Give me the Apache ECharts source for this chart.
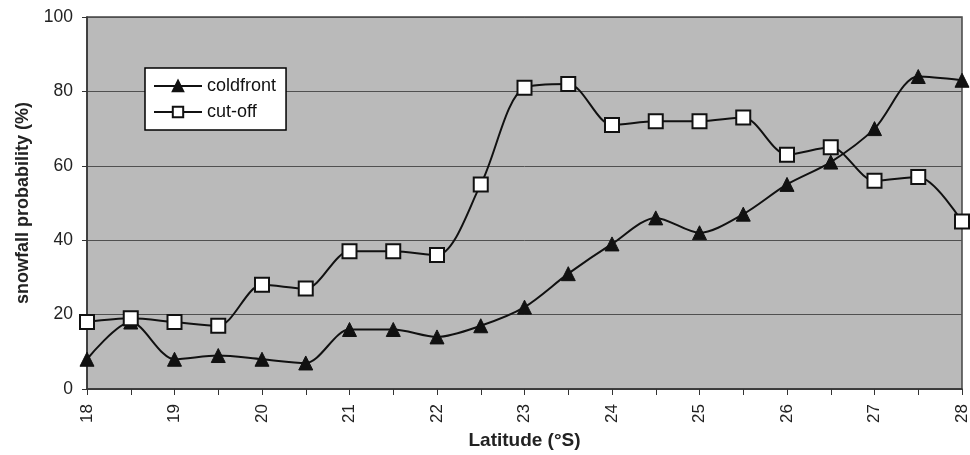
<!DOCTYPE html>
<html><head><meta charset="utf-8">
<script src="https://cdn.jsdelivr.net/npm/echarts@6/dist/echarts.min.js"></script>
<style>html,body{margin:0;padding:0;background:#fff}#c{width:970px;height:455px}</style>
</head><body><div id="c"></div>
<script>
const latitudes = [18,18.5,19,19.5,20,20.5,21,21.5,22,22.5,23,23.5,24,24.5,25,25.5,26,26.5,27,27.5,28];
const coldfront = [8,18,8,9,8,7,16,16,14,17,22,31,39,46,42,47,55,61,70,84,83];
const cutoff = [18,19,18,17,28,27,37,37,36,55,81,82,71,72,72,73,63,65,56,57,45];
const seriesNames = ['coldfront','cut-off'];

const chart = echarts.init(document.getElementById('c'));
const font = 'Liberation Sans, Arial, sans-serif';
chart.setOption({
  animation:false,
  backgroundColor:'#ffffff',
  grid:{left:87,right:8,top:17,bottom:66,outerBoundsMode:'none',containLabel:false,show:true,backgroundColor:'#bababa',borderColor:'#444',borderWidth:1.5},
  legend:{
    orient:'vertical', left:145, top:68, padding:[9,10,9,8], itemGap:8,
    backgroundColor:'#fff', borderColor:'#000', borderWidth:1.5,
    itemWidth:48, itemHeight:13,
    textStyle:{fontFamily:font,fontSize:18,color:'#111'},
    data:seriesNames
  },
  xAxis:{
    type:'value', min:18, max:28, interval:0.5,
    name:'Latitude (°S)', nameLocation:'middle', nameGap:41,
    nameTextStyle:{fontFamily:font,fontSize:19,fontWeight:'bold',color:'#222'},
    axisLine:{lineStyle:{color:'#333',width:1.5}},
    axisTick:{show:true,length:6,lineStyle:{color:'#333'}},
    splitLine:{show:false},
    axisLabel:{rotate:90,fontFamily:font,fontSize:17,color:'#222',margin:15,
      formatter:v=>Number.isInteger(v)?String(v):''}
  },
  yAxis:{
    type:'value', min:0, max:100, interval:20,
    name:'snowfall probability (%)', nameLocation:'middle', nameGap:55,
    nameTextStyle:{fontFamily:font,fontSize:18,fontWeight:'bold',color:'#222'},
    axisLine:{show:true,lineStyle:{color:'#333',width:1.5}},
    axisTick:{show:true,length:5,lineStyle:{color:'#333'}},
    splitLine:{show:true,lineStyle:{color:'#505050',width:1}},
    axisLabel:{fontFamily:font,fontSize:17.5,color:'#222',margin:14}
  },
  series:[
    {name:seriesNames[0],type:'line',smooth:0.3,data:latitudes.map((x,i)=>[x,coldfront[i]]),
     symbol:'triangle',symbolSize:14,lineStyle:{color:'#111',width:2},
     itemStyle:{color:'#111',borderColor:'#111',borderWidth:1},z:3},
    {name:seriesNames[1],type:'line',smooth:0.3,data:latitudes.map((x,i)=>[x,cutoff[i]]),
     symbol:'rect',symbolSize:14,lineStyle:{color:'#111',width:2},
     itemStyle:{color:'#fff',borderColor:'#111',borderWidth:2},z:4}
  ]
});
</script></body></html>
